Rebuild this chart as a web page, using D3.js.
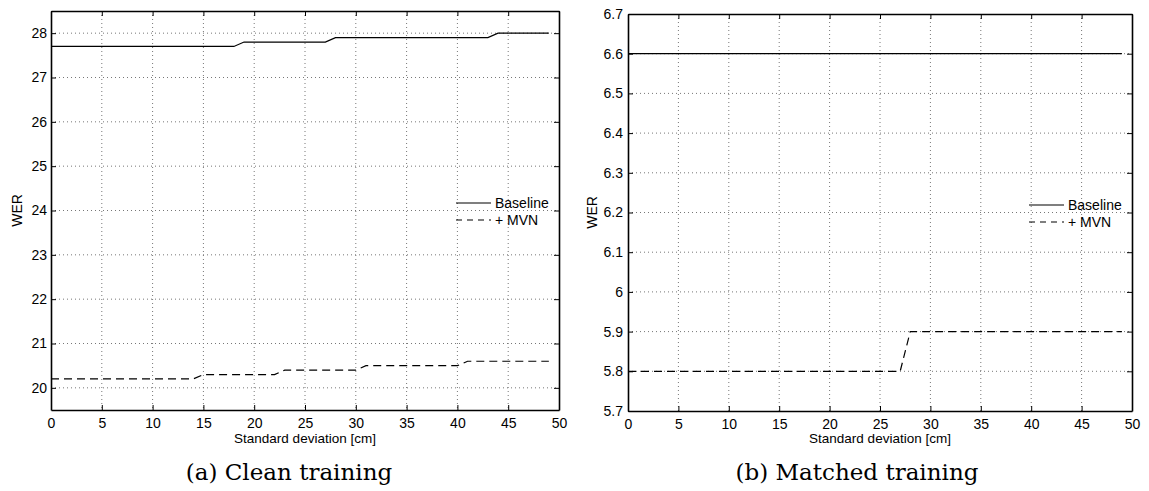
<!DOCTYPE html>
<html><head><meta charset="utf-8">
<script src="https://cdn.jsdelivr.net/npm/d3@7"></script>
<style>
body{margin:0;background:#fff;}
svg text{font-family:"Liberation Sans",Arial,sans-serif;fill:#000;}
</style></head>
<body><svg id="c" width="1149" height="491"></svg>
<script>
// x values: standard deviation [cm]
const xs = d3.range(0, 50);
// Panel (a) Clean training
const cleanBaseline = [27.7,27.7,27.7,27.7,27.7,27.7,27.7,27.7,27.7,27.7,27.7,27.7,27.7,27.7,27.7,27.7,27.7,27.7,27.7,
  27.8,27.8,27.8,27.8,27.8,27.8,27.8,27.8,27.8,
  27.9,27.9,27.9,27.9,27.9,27.9,27.9,27.9,27.9,27.9,27.9,27.9,27.9,27.9,27.9,27.9,
  28.0,28.0,28.0,28.0,28.0,28.0];
const cleanMVN = [20.2,20.2,20.2,20.2,20.2,20.2,20.2,20.2,20.2,20.2,20.2,20.2,20.2,20.2,20.2,
  20.3,20.3,20.3,20.3,20.3,20.3,20.3,20.3,
  20.4,20.4,20.4,20.4,20.4,20.4,20.4,20.4,
  20.5,20.5,20.5,20.5,20.5,20.5,20.5,20.5,20.5,20.5,
  20.6,20.6,20.6,20.6,20.6,20.6,20.6,20.6,20.6];
// Panel (b) Matched training
const matchedBaseline = [6.6,6.6,6.6,6.6,6.6,6.6,6.6,6.6,6.6,6.6,6.6,6.6,6.6,6.6,6.6,6.6,6.6,6.6,6.6,6.6,6.6,6.6,6.6,6.6,6.6,
  6.6,6.6,6.6,6.6,6.6,6.6,6.6,6.6,6.6,6.6,6.6,6.6,6.6,6.6,6.6,6.6,6.6,6.6,6.6,6.6,6.6,6.6,6.6,6.6,6.6];
const matchedMVN = [5.8,5.8,5.8,5.8,5.8,5.8,5.8,5.8,5.8,5.8,5.8,5.8,5.8,5.8,5.8,5.8,5.8,5.8,5.8,5.8,5.8,5.8,5.8,5.8,5.8,5.8,5.8,5.8,
  5.9,5.9,5.9,5.9,5.9,5.9,5.9,5.9,5.9,5.9,5.9,5.9,5.9,5.9,5.9,5.9,5.9,5.9,5.9,5.9,5.9,5.9];
const xTicks = [0,5,10,15,20,25,30,35,40,45,50];
const yTicksA = [20,21,22,23,24,25,26,27,28];
const yTicksB = [5.7,5.8,5.9,6,6.1,6.2,6.3,6.4,6.5,6.6,6.7];
const legendLabels = ["Baseline", "+ MVN"];
const xLabel = "Standard deviation [cm]";
const yLabel = "WER";
const captions = ["(a) Clean training", "(b) Matched training"];

const svg = d3.select("#c");

function panel(cfg){
  const g = svg.append("g");
  const x = d3.scaleLinear().domain([0,50]).range([cfg.left, cfg.right]);
  const y = d3.scaleLinear().domain(cfg.ydom).range([cfg.bottom, cfg.top]);
  // grid
  g.append("g").selectAll("line").data(xTicks.slice(1,-1)).join("line")
    .attr("x1",d=>x(d)).attr("x2",d=>x(d)).attr("y1",cfg.top).attr("y2",cfg.bottom)
    .attr("stroke","#777").attr("stroke-width",1).attr("stroke-dasharray","1,3");
  g.append("g").selectAll("line").data(cfg.yticks.filter(v=>v>cfg.ydom[0]+1e-9 && v<cfg.ydom[1]-1e-9)).join("line")
    .attr("x1",cfg.left).attr("x2",cfg.right).attr("y1",d=>y(d)).attr("y2",d=>y(d))
    .attr("stroke","#777").attr("stroke-width",1).attr("stroke-dasharray","1,3");
  // axes with inward ticks
  const ax = g.append("g").attr("transform",`translate(0,${cfg.bottom})`)
    .call(d3.axisBottom(x).tickValues(xTicks).tickSize(-5).tickPadding(8).tickSizeOuter(0));
  const axT = g.append("g").attr("transform",`translate(0,${cfg.top})`)
    .call(d3.axisTop(x).tickValues(xTicks).tickSize(-5).tickFormat("").tickSizeOuter(0));
  const ay = g.append("g").attr("transform",`translate(${cfg.left},0)`)
    .call(d3.axisLeft(y).tickValues(cfg.yticks).tickSize(-5).tickPadding(cfg.ypad).tickFormat(cfg.fmt).tickSizeOuter(0));
  const ayR = g.append("g").attr("transform",`translate(${cfg.right},0)`)
    .call(d3.axisRight(y).tickValues(cfg.yticks).tickSize(-5).tickFormat("").tickSizeOuter(0));
  [ax,axT,ay,ayR].forEach(a=>{
    a.attr("font-size",null).attr("font-family",null);
    a.select(".domain").attr("stroke","#000").attr("stroke-width",1.6);
    a.selectAll(".tick line").attr("stroke","#000").attr("stroke-width",1);
    a.selectAll("text").style("font-size","14px").attr("fill","#000");
  });
  // lines
  const line = d3.line().x((d,i)=>x(xs[i])).y(d=>y(d));
  g.append("path").datum(cfg.base).attr("d",line).attr("fill","none").attr("stroke","#000").attr("stroke-width",1.2);
  g.append("path").datum(cfg.mvn).attr("d",line).attr("fill","none").attr("stroke","#000").attr("stroke-width",1.2).attr("stroke-dasharray","8,5");
  // legend
  const lx = cfg.legX, ly = cfg.legY;
  legendLabels.forEach((lab,i)=>{
    g.append("line").attr("x1",lx).attr("x2",lx+35).attr("y1",ly+i*17).attr("y2",ly+i*17)
      .attr("stroke","#000").attr("stroke-width",1.2).attr("stroke-dasharray",i? "6,5":null);
    g.append("text").attr("x",lx+39).attr("y",ly+i*17).attr("dy","0.36em").style("font-size","14px").text(lab);
  });
  // labels
  g.append("text").attr("x",(cfg.left+cfg.right)/2).attr("y",443).attr("text-anchor","middle").style("font-size","13.5px").text(xLabel);
  g.append("text").attr("transform",`translate(${cfg.left-cfg.ylabOff},${(cfg.top+cfg.bottom)/2}) rotate(-90)`)
    .attr("text-anchor","middle").style("font-size","14px").text(yLabel);
  g.append("text").attr("x",cfg.capX).attr("y",480).attr("text-anchor","middle")
    .style("font-family","'DejaVu Serif',serif").style("font-size","23px").text(cfg.caption);
}

panel({left:51,right:559,top:11,bottom:410,ydom:[19.5,28.5],yticks:yTicksA,fmt:d3.format("d"),ypad:4,ylabOff:29,capX:289,
  base:cleanBaseline,mvn:cleanMVN,legX:456,legY:203,caption:captions[0]});
panel({left:628,right:1132,top:14,bottom:411,ydom:[5.7,6.7],yticks:yTicksB,fmt:d=>String(+d.toFixed(1)),ypad:5,ylabOff:31,capX:857,
  base:matchedBaseline,mvn:matchedMVN,legX:1029,legY:205,caption:captions[1]});
</script></body></html>
